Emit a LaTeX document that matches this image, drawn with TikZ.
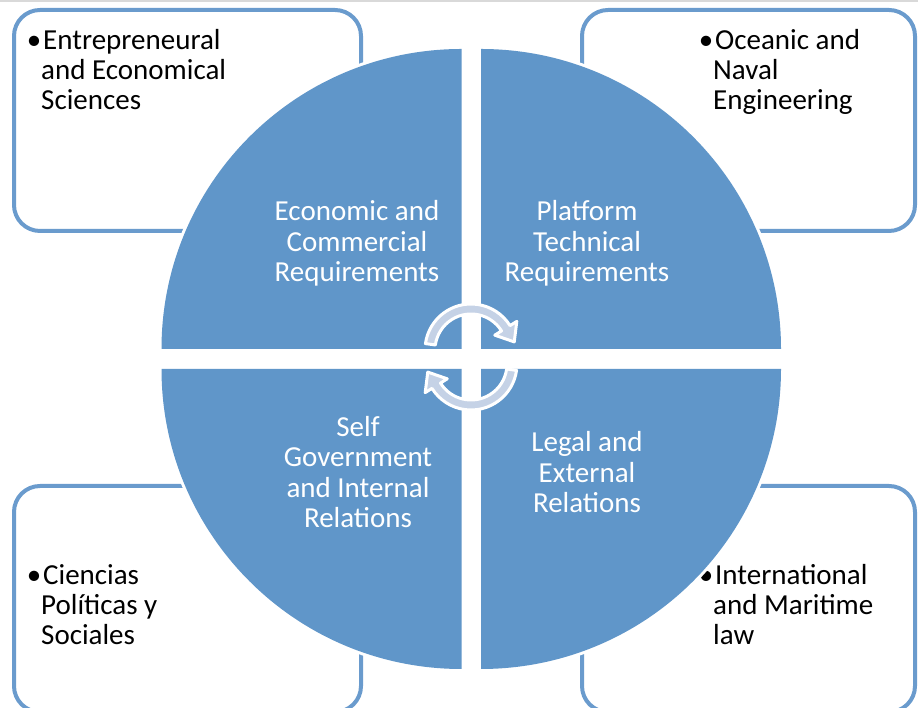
\documentclass[tikz,border=0pt]{standalone}
\usepackage{fontspec}
\setmainfont{Carlito}
\usetikzlibrary{calc}
\definecolor{quadcol}{HTML}{6096C9}
\definecolor{boxcol}{HTML}{6A9BCD}
\definecolor{arrcol}{HTML}{C5D2E6}
\begin{document}
\begin{tikzpicture}[x=1pt,y=1pt,
  box/.style={draw=boxcol,line width=4pt,fill=white,rounded corners=26pt},
  quad/.style={fill=quadcol,preaction={draw=white,line width=6pt}},
  cyc/.style={fill=arrcol,draw=white,line width=3pt,line join=round},
  lab/.style={text=white,align=center,font=\fontsize{29}{30.5}\selectfont,inner sep=0pt,anchor=base},
  item/.style={align=left,font=\fontsize{29}{30}\selectfont,inner sep=0pt,anchor=base west}]
  \useasboundingbox (0,0) rectangle (918,708);
  \draw[black!15,line width=2pt] (0,707) -- (918,707);
  \draw[box] (14,698) rectangle (361,477);
  \draw[box] (582,698) rectangle (915,477);
  \draw[box] (14,222) rectangle (361,-4);
  \draw[box] (582,222) rectangle (915,-4);
  \node[item] (ecosci) at (41,598) {\llap{\textbullet}\kern2pt Entrepreneural\\and Economical\\Sciences};
  \node[item] (naval) at (713,598) {\llap{\textbullet}\kern2pt Oceanic and\\Naval\\Engineering};
  \node[item] (polsci) at (41,63) {\llap{\textbullet}\kern2pt Ciencias\\Políticas y\\Sociales};
  \node[item] (marlaw) at (713,63) {\llap{\textbullet}\kern2pt International\\and Maritime\\law};
  \foreach \cx/\cy/\a in {461.5/359/90,481/359/0,461.5/339/180,481/339/270}
    \path[quad] (\cx,\cy) -- ++(\a:300) arc[start angle=\a,delta angle=90,radius=300] -- cycle;
  \foreach \r in {0,180}
    \path[cyc,shift={(471,351)},rotate=\r,shift={(0,7)}] (172:46) arc[start angle=172,end angle=32,radius=46]
      -- (32:54) -- (10.6:44) -- (32:28) -- (32:36) arc[start angle=32,end angle=172,radius=36] -- cycle;
  \node[lab] (econ) at (357,426) {Economic and\\Commercial\\Requirements};
  \node[lab] (tech) at (587,426) {Platform\\Technical\\Requirements};
  \node[lab] (self) at (358,180) {Self\\Government\\and Internal\\Relations};
  \node[lab] (legal) at (587,195) {Legal and\\External\\Relations};
\end{tikzpicture}
\end{document}
